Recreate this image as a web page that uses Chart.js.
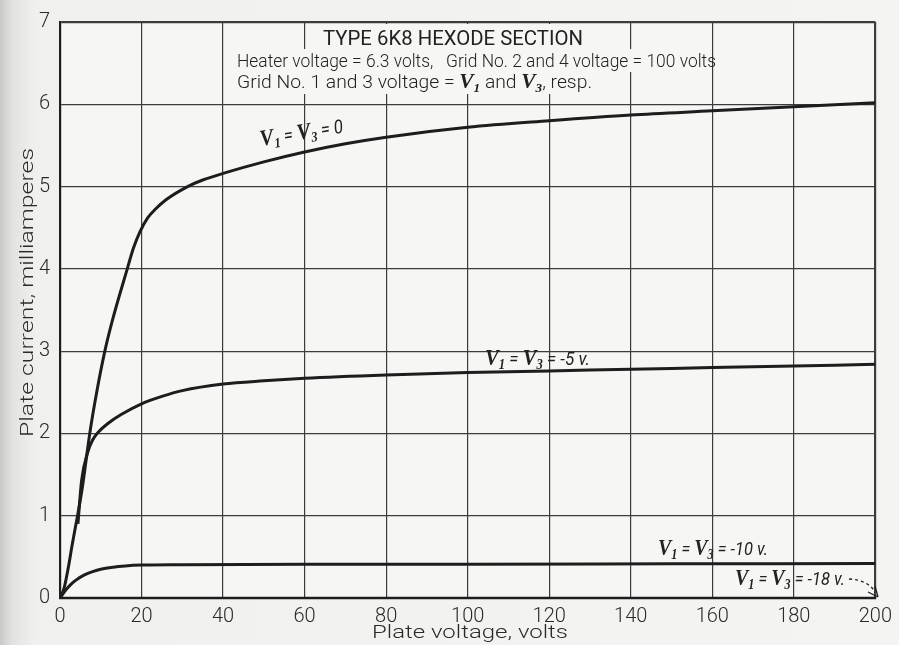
<!DOCTYPE html>
<html>
<head>
<meta charset="utf-8">
<title>Type 6K8 hexode section</title>
<script src="https://cdn.jsdelivr.net/npm/chart.js@4/dist/chart.umd.min.js"></script>
<style>
    html, body { margin: 0; padding: 0; }
    body {
        width: 899px; height: 645px; overflow: hidden;
        background: linear-gradient(to right, #c8c8c6 0, #e2e2e0 12px, #f0f0ee 35px, #f4f4f2 100%);
    }
    #wrap { position: relative; width: 899px; height: 645px; }
</style>
</head>
<body>
<div id="wrap"><canvas id="plateChart"></canvas></div>
<script>
// plate voltage (volts) / plate current (mA)
const voltTicks = [0, 20, 40, 60, 80, 100, 120, 140, 160, 180, 200];
const currentTicks = [0, 1, 2, 3, 4, 5, 6, 7];

const zeroVolts = [0, 1, 2, 3, 4.3, 5.5, 7.3, 9, 11, 13, 16.5, 18, 19.6, 21.5, 23.5, 26, 31.3, 35, 40, 50, 60, 70, 80, 100, 120, 140, 160, 180, 200];
const zeroCurrent = [0, 0.12, 0.36, 0.65, 1.0, 1.35, 2.0, 2.5, 3.0, 3.4, 4.0, 4.25, 4.45, 4.62, 4.73, 4.84, 5.0, 5.08, 5.16, 5.3, 5.42, 5.52, 5.6, 5.72, 5.8, 5.87, 5.92, 5.97, 6.02];

const minus5Volts = [4.4, 5.3, 6.8, 8, 9.5, 12, 15, 20, 25, 30, 40, 50, 60, 80, 100, 120, 140, 160, 180, 200];
const minus5Current = [0.9, 1.43, 1.77, 1.92, 2.02, 2.13, 2.23, 2.36, 2.45, 2.52, 2.6, 2.64, 2.67, 2.71, 2.74, 2.76, 2.78, 2.8, 2.82, 2.84];

const minus10Volts = [0, 1, 2, 3, 4, 6, 8, 10, 13, 16, 20, 30, 60, 100, 150, 200];
const minus10Current = [0, 0.07, 0.13, 0.18, 0.22, 0.28, 0.32, 0.35, 0.375, 0.39, 0.4, 0.405, 0.41, 0.41, 0.415, 0.42];

const minus18Volts = [0, 200];
const minus18Current = [0, 0];

const INK = "#1d1d1d";
const GRID = "#3c3c3c";
const PAPER = "#f6f6f4";
const SANS = '"Roboto", "DejaVu Sans", sans-serif';
const SERIF = '"Liberation Serif", "DejaVu Serif", serif';

function toPoints(xs, ys) {
    return xs.map((x, i) => ({ x: x, y: ys[i] }));
}

function curve(label, xs, ys, width) {
    return {
        label: label,
        data: toPoints(xs, ys),
        borderColor: INK,
        borderWidth: width,
        pointRadius: 0,
        fill: false,
        cubicInterpolationMode: "monotone"
    };
}

// draws a list of text runs, squeezed or stretched to a target width
function drawRuns(ctx, runs, x, y, targetWidth, angle) {
    let total = 0;
    runs.forEach(r => {
        ctx.font = r.font;
        r.w = ctx.measureText(r.text).width;
        total += r.w;
    });
    const sx = targetWidth ? targetWidth / total : 1;
    ctx.save();
    ctx.translate(x, y);
    if (angle) ctx.rotate(angle);
    ctx.scale(sx, 1);
    let cx = 0;
    runs.forEach(r => {
        ctx.font = r.font;
        ctx.fillText(r.text, cx, r.dy || 0);
        cx += r.w;
    });
    ctx.restore();
}

function vLabel(tail) {
    const big = "italic bold 23px " + SERIF;
    const sub = "italic bold 14px " + SERIF;
    const rest = "italic 19px " + SANS;
    return [
        { text: "V", font: big },
        { text: "1", font: sub, dy: 4 },
        { text: " = ", font: rest },
        { text: "V", font: big },
        { text: "3", font: sub, dy: 4 },
        { text: " = " + tail, font: rest }
    ];
}

const annotations = {
    id: "annotations",
    afterDraw(chart) {
        const ctx = chart.ctx;
        ctx.save();

        // heading block, paper showing through the grid
        ctx.fillStyle = PAPER;
        ctx.fillRect(318, 24, 272, 25);
        ctx.fillRect(232, 49, 480, 23);
        ctx.fillRect(232, 72, 365, 22);

        ctx.fillStyle = "#222";
        ctx.textBaseline = "alphabetic";
        ctx.textAlign = "left";
        drawRuns(ctx, [{ text: "TYPE 6K8 HEXODE SECTION", font: "21px " + SANS }], 323, 45, 260);
        drawRuns(ctx, [{ text: "Heater voltage = 6.3 volts,   Grid No. 2 and 4 voltage = 100 volts", font: "300 19px " + SANS }], 237, 67, 479);
        const small = "300 19px " + SANS;
        drawRuns(ctx, [
            { text: "Grid No. 1 and 3 voltage = ", font: small },
            { text: "V", font: "italic bold 21px " + SERIF },
            { text: "1", font: "italic bold 13px " + SERIF, dy: 4 },
            { text: " and ", font: small },
            { text: "V", font: "italic bold 21px " + SERIF },
            { text: "3", font: "italic bold 13px " + SERIF, dy: 4 },
            { text: ", resp.", font: small }
        ], 237, 88, 355);

        // curve labels
        drawRuns(ctx, vLabel("0"), 261, 146, 84, -0.16);
        drawRuns(ctx, vLabel("-5 v."), 485, 365, 105);
        drawRuns(ctx, vLabel("-10 v."), 658, 555, 110);
        drawRuns(ctx, vLabel("-18 v."), 735, 585, 110);

        // dashed arrow to the -18 v curve on the axis
        ctx.strokeStyle = "#222";
        ctx.lineWidth = 1.3;
        ctx.setLineDash([3, 3]);
        ctx.beginPath();
        ctx.moveTo(849, 579);
        ctx.quadraticCurveTo(868, 580, 875, 592);
        ctx.stroke();
        ctx.setLineDash([]);
        ctx.beginPath();
        ctx.moveTo(878, 597);
        ctx.lineTo(868, 592);
        ctx.moveTo(878, 597);
        ctx.lineTo(875, 586);
        ctx.stroke();

        // axis titles
        ctx.fillStyle = "#2a2a2a";
        drawRuns(ctx, [{ text: "Plate voltage, volts", font: "300 19px " + SANS }], 372, 638, 196);
        drawRuns(ctx, [{ text: "Plate current, milliamperes", font: "300 19px " + SANS }], 33, 437, 289, -Math.PI / 2);

        ctx.restore();
    }
};

const paperPlugin = {
    id: "paper",
    beforeDraw(chart) {
        const a = chart.chartArea;
        chart.ctx.save();
        chart.ctx.fillStyle = PAPER;
        chart.ctx.fillRect(a.left, a.top, a.right - a.left, a.bottom - a.top);
        chart.ctx.restore();
    }
};

const tickFont = { family: SANS, size: 20, weight: "300" };

new Chart(document.getElementById("plateChart"), {
    type: "line",
    data: {
        datasets: [
            curve("V1 = V3 = 0", zeroVolts, zeroCurrent, 3),
            curve("V1 = V3 = -5 v.", minus5Volts, minus5Current, 3),
            curve("V1 = V3 = -10 v.", minus10Volts, minus10Current, 3),
            curve("V1 = V3 = -18 v.", minus18Volts, minus18Current, 2.5)
        ]
    },
    options: {
        responsive: true,
        maintainAspectRatio: false,
        animation: false,
        devicePixelRatio: 1,
        layout: { padding: { top: 19, right: 21, left: 0, bottom: 0 } },
        plugins: { legend: { display: false }, tooltip: { enabled: false } },
        scales: {
            x: {
                type: "linear",
                min: 0,
                max: 200,
                afterBuildTicks: s => { s.ticks = voltTicks.map(v => ({ value: v })); },
                afterFit: s => { s.height = 47; },
                grid: {
                    color: GRID,
                    lineWidth: c => (c.tick && c.tick.value === 200 ? 2.2 : 1.2),
                    drawTicks: false
                },
                border: { color: INK, width: 2.2 },
                ticks: { padding: 7, color: "#2a2a2a", font: tickFont, maxRotation: 0 }
            },
            y: {
                type: "linear",
                min: 0,
                max: 7,
                afterBuildTicks: s => { s.ticks = currentTicks.map(v => ({ value: v })); },
                afterFit: s => { s.width = 60; },
                grid: {
                    color: GRID,
                    lineWidth: c => (c.tick && c.tick.value === 7 ? 2.2 : 1.2),
                    drawTicks: false
                },
                border: { color: INK, width: 2.2 },
                ticks: { padding: 10, color: "#2a2a2a", font: tickFont }
            }
        }
    },
    plugins: [paperPlugin, annotations]
});
</script>
</body>
</html>
